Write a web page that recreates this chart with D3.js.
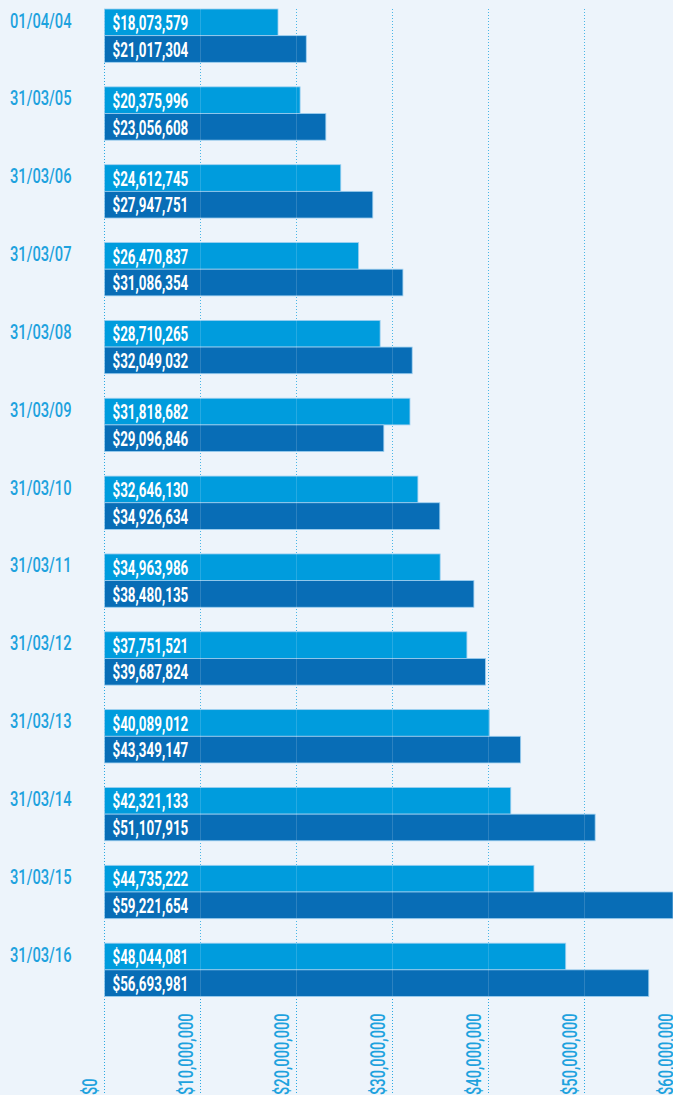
<!DOCTYPE html>
<html>
<head>
<meta charset="utf-8">
<script src="https://cdn.jsdelivr.net/npm/d3@7"></script>
<style>
  body { margin: 0; background: #edf4fb; }
  svg { display: block; }
  text { font-family: Roboto, "Noto Sans", sans-serif; }
</style>
</head>
<body>
<div id="chart"></div>
<script>
var w = 673;
var h = 1095;

var dates = ["01/04/04", "31/03/05", "31/03/06", "31/03/07", "31/03/08", "31/03/09", "31/03/10",
    "31/03/11", "31/03/12", "31/03/13", "31/03/14", "31/03/15", "31/03/16"];
var seriesA = [18073579, 20375996, 24612745, 26470837, 28710265, 31818682, 32646130,
    34963986, 37751521, 40089012, 42321133, 44735222, 48044081];
var seriesB = [21017304, 23056608, 27947751, 31086354, 32049032, 29096846, 34926634,
    38480135, 39687824, 43349147, 51107915, 59221654, 56693981];
var tickValues = [0, 10000000, 20000000, 30000000, 40000000, 50000000, 60000000];

var lightBlue = "#009cdd";
var darkBlue = "#086db6";
var textBlue = "#1ea2de";

var svg = d3.select("#chart")
    .append("svg")
    .attr("width", w)
    .attr("height", h);

svg.append("rect")
    .attr("width", w)
    .attr("height", h)
    .attr("fill", "#edf4fb");

var x = d3.scaleLinear()
    .domain([0, 60000000])
    .range([104.5, 680.5]);

var y = d3.scaleBand()
    .domain(dates)
    .range([9, 996.5])
    .paddingInner(0.315)
    .paddingOuter(0);

var inner = d3.scaleBand()
    .domain(["a", "b"])
    .range([0, y.bandwidth()]);

var rows = dates.map(function(d, i) {
    return { date: d, a: seriesA[i], b: seriesB[i] };
});

var fmt = function(v) { return "$" + d3.format(",")(v); };

// grid lines
svg.append("g")
    .selectAll("line")
    .data(tickValues)
    .enter()
    .append("line")
    .attr("x1", function(d) { return x(d); })
    .attr("x2", function(d) { return x(d); })
    .attr("y1", 9)
    .attr("y2", h)
    .attr("stroke", "#2aa8e2")
    .attr("stroke-width", 1)
    .attr("stroke-dasharray", "1,2");

// bars
var groups = svg.append("g")
    .selectAll("g")
    .data(rows)
    .enter()
    .append("g")
    .attr("transform", function(d) { return "translate(0," + y(d.date) + ")"; });

[["a", lightBlue], ["b", darkBlue]].forEach(function(s) {
    groups.append("rect")
        .attr("x", x(0))
        .attr("y", inner(s[0]))
        .attr("width", function(d) { return x(d[s[0]]) - x(0); })
        .attr("height", inner.bandwidth())
        .attr("fill", s[1])
        .attr("stroke", "#9fd0f0")
        .attr("stroke-width", 0.8);

    groups.append("text")
        .attr("transform", function(d) {
            return "translate(112.5," + (inner(s[0]) + 21) + ") scale(0.67,1)";
        })
        .attr("fill", "#ffffff")
        .style("font-size", "20px")
        .style("font-weight", "700")
        .text(function(d) { return fmt(d[s[0]]); });
});

// faint grid over bars
svg.append("g")
    .selectAll("line")
    .data(tickValues.slice(1))
    .enter()
    .append("line")
    .attr("x1", function(d) { return x(d); })
    .attr("x2", function(d) { return x(d); })
    .attr("y1", 9)
    .attr("y2", 997)
    .attr("stroke", "#ffffff")
    .attr("stroke-opacity", 0.15)
    .attr("stroke-width", 1);

// date labels
groups.append("text")
    .attr("transform", "translate(10,18.5) scale(0.7,1)")
    .attr("fill", textBlue)
    .style("font-size", "21px")
    .style("font-weight", "500")
    .text(function(d) { return d.date; });

// axis tick labels (rotated)
svg.append("g")
    .selectAll("text")
    .data(tickValues)
    .enter()
    .append("text")
    .attr("transform", function(d) {
        return "translate(" + (x(d) - 8) + ",1095) rotate(-90) scale(0.7,1)";
    })
    .attr("fill", textBlue)
    .style("font-size", "21px")
    .style("font-weight", "500")
    .text(function(d) { return fmt(d); });
</script>
</body>
</html>
